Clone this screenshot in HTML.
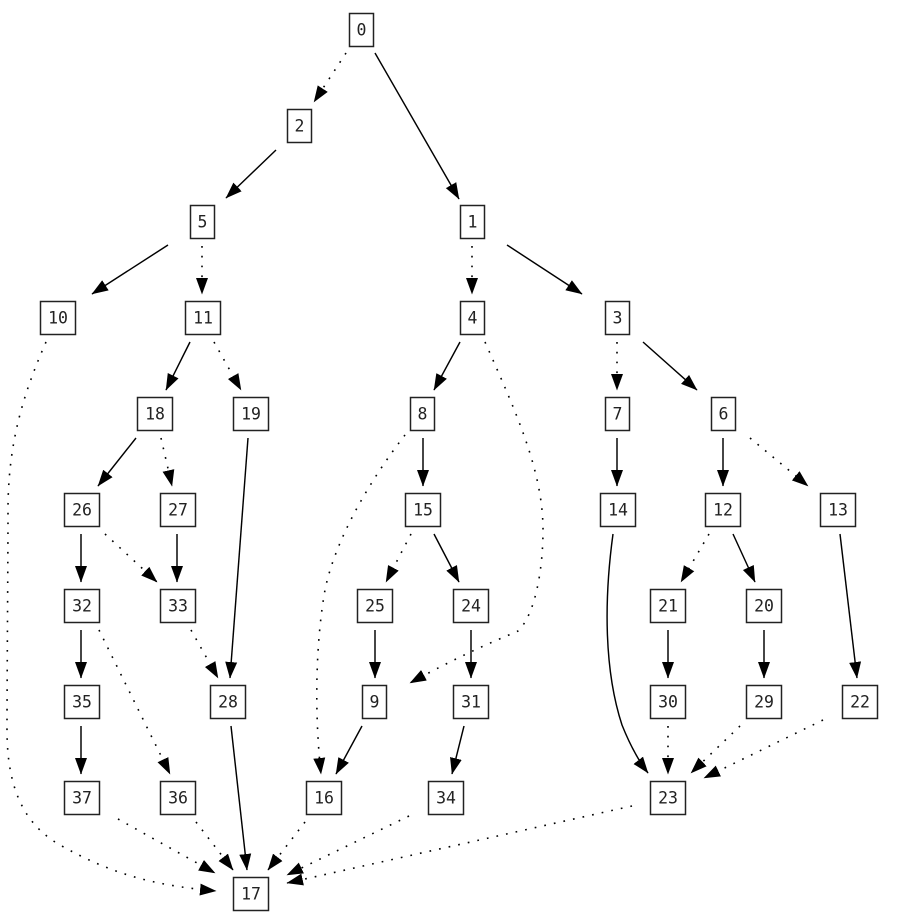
<!DOCTYPE html>
<html><head><meta charset="utf-8"><style>
html,body{margin:0;padding:0;background:#fff}
svg{display:block}
rect{fill:#fff;stroke:#222;stroke-width:1.5}
text{font-family:"DejaVu Sans Mono","Liberation Mono",monospace;font-size:16.5px;fill:#222;text-anchor:middle}
.s,.d{fill:none;stroke:#000;stroke-width:1.45;marker-end:url(#a)}
.d{stroke-width:1.6;stroke-dasharray:1.7 8.1}
</style></head><body>
<svg width="901" height="923" viewBox="0 0 901 923" xmlns="http://www.w3.org/2000/svg">
<defs><marker id="a" markerUnits="userSpaceOnUse" markerWidth="20" markerHeight="16" refX="16" refY="8" orient="auto"><path d="M0,2 L16.5,8 L0,14 Z" fill="#000"/></marker></defs>
<g>
<path class="s" d="M375,53 L459,199"/>
<path class="d" d="M346,53 L314,102"/>
<path class="s" d="M276,150 L226,198"/>
<path class="d" d="M472,246 L472,294"/>
<path class="s" d="M507,245 L582,294"/>
<path class="s" d="M168,245 L92,294"/>
<path class="d" d="M202,246 L202,294"/>
<path class="d" d="M46,342 C25,390 8,440 8,510 C8,560 7,680 7,730 C7,790 25,825 60,845 C110,873 150,885 216,891"/>
<path class="s" d="M190,342 L166,390"/>
<path class="d" d="M214,342 L241,390"/>
<path class="s" d="M136,438 L98,486"/>
<path class="d" d="M161,438 L172,486"/>
<path class="s" d="M248,438 L230,678"/>
<path class="s" d="M81,534 L81,582"/>
<path class="d" d="M105,534 L157,582"/>
<path class="s" d="M177,534 L177,582"/>
<path class="s" d="M81,630 L81,678"/>
<path class="d" d="M99,630 L170,774"/>
<path class="d" d="M191,630 L218,678"/>
<path class="s" d="M81,726 L81,774"/>
<path class="s" d="M231,726 L247,870"/>
<path class="d" d="M118,819 L215,873"/>
<path class="d" d="M196,822 L233,870"/>
<path class="d" d="M305,822 L268,870"/>
<path class="d" d="M409,816 L287,875"/>
<path class="d" d="M632,806 L287,883"/>
<path class="d" d="M485,342 C515,410 543,470 543,530 C543,570 535,615 518,631 C505,637 470,650 410,683"/>
<path class="s" d="M460,342 L434,390"/>
<path class="d" d="M405,435 C370,480 335,540 325,590 C316,640 314,710 321,774"/>
<path class="s" d="M423,438 L423,486"/>
<path class="d" d="M411,534 L386,582"/>
<path class="s" d="M434,534 L459,582"/>
<path class="s" d="M375,630 L375,678"/>
<path class="s" d="M471,630 L471,678"/>
<path class="s" d="M362,726 L336,774"/>
<path class="s" d="M464,726 L452,774"/>
<path class="d" d="M617,342 L617,390"/>
<path class="s" d="M643,342 L697,390"/>
<path class="s" d="M617,438 L617,486"/>
<path class="s" d="M723,438 L723,486"/>
<path class="d" d="M750,438 L808,486"/>
<path class="d" d="M709,534 L681,582"/>
<path class="s" d="M733,534 L755,582"/>
<path class="s" d="M840,534 L857,678"/>
<path class="s" d="M613,534 C604,600 604,670 622,725 C630,745 638,760 648,773"/>
<path class="s" d="M668,630 L668,678"/>
<path class="s" d="M764,630 L764,678"/>
<path class="d" d="M668,726 L668,774"/>
<path class="d" d="M740,726 L691,773"/>
<path class="d" d="M823,720 L704,778"/>
</g>
<g>
<rect x="349.5" y="13.5" width="24" height="33"/><text x="361.5" y="35.5">0</text>
<rect x="287.5" y="109.5" width="24" height="33"/><text x="299.5" y="131.5">2</text>
<rect x="190.5" y="205.5" width="24" height="33"/><text x="202.5" y="227.5">5</text>
<rect x="460.5" y="205.5" width="24" height="33"/><text x="472.5" y="227.5">1</text>
<rect x="40.5" y="301.5" width="35" height="33"/><text x="58" y="323.5">10</text>
<rect x="185.5" y="301.5" width="35" height="33"/><text x="203" y="323.5">11</text>
<rect x="460.5" y="301.5" width="24" height="33"/><text x="472.5" y="323.5">4</text>
<rect x="605.5" y="301.5" width="24" height="33"/><text x="617.5" y="323.5">3</text>
<rect x="137.5" y="397.5" width="35" height="33"/><text x="155" y="419.5">18</text>
<rect x="233.5" y="397.5" width="35" height="33"/><text x="251" y="419.5">19</text>
<rect x="410.5" y="397.5" width="24" height="33"/><text x="422.5" y="419.5">8</text>
<rect x="605.5" y="397.5" width="24" height="33"/><text x="617.5" y="419.5">7</text>
<rect x="711.5" y="397.5" width="24" height="33"/><text x="723.5" y="419.5">6</text>
<rect x="64.5" y="493.5" width="35" height="33"/><text x="82" y="515.5">26</text>
<rect x="160.5" y="493.5" width="35" height="33"/><text x="178" y="515.5">27</text>
<rect x="405.5" y="493.5" width="35" height="33"/><text x="423" y="515.5">15</text>
<rect x="600.5" y="493.5" width="35" height="33"/><text x="618" y="515.5">14</text>
<rect x="705.5" y="493.5" width="35" height="33"/><text x="723" y="515.5">12</text>
<rect x="820.5" y="493.5" width="35" height="33"/><text x="838" y="515.5">13</text>
<rect x="64.5" y="589.5" width="35" height="33"/><text x="82" y="611.5">32</text>
<rect x="160.5" y="589.5" width="35" height="33"/><text x="178" y="611.5">33</text>
<rect x="357.5" y="589.5" width="35" height="33"/><text x="375" y="611.5">25</text>
<rect x="453.5" y="589.5" width="35" height="33"/><text x="471" y="611.5">24</text>
<rect x="650.5" y="589.5" width="35" height="33"/><text x="668" y="611.5">21</text>
<rect x="746.5" y="589.5" width="35" height="33"/><text x="764" y="611.5">20</text>
<rect x="64.5" y="685.5" width="35" height="33"/><text x="82" y="707.5">35</text>
<rect x="210.5" y="685.5" width="35" height="33"/><text x="228" y="707.5">28</text>
<rect x="362.5" y="685.5" width="24" height="33"/><text x="374.5" y="707.5">9</text>
<rect x="453.5" y="685.5" width="35" height="33"/><text x="471" y="707.5">31</text>
<rect x="650.5" y="685.5" width="35" height="33"/><text x="668" y="707.5">30</text>
<rect x="746.5" y="685.5" width="35" height="33"/><text x="764" y="707.5">29</text>
<rect x="842.5" y="685.5" width="35" height="33"/><text x="860" y="707.5">22</text>
<rect x="64.5" y="781.5" width="35" height="33"/><text x="82" y="803.5">37</text>
<rect x="160.5" y="781.5" width="35" height="33"/><text x="178" y="803.5">36</text>
<rect x="306.5" y="781.5" width="35" height="33"/><text x="324" y="803.5">16</text>
<rect x="428.5" y="781.5" width="35" height="33"/><text x="446" y="803.5">34</text>
<rect x="650.5" y="781.5" width="35" height="33"/><text x="668" y="803.5">23</text>
<rect x="233.5" y="877.5" width="35" height="33"/><text x="251" y="899.5">17</text>
</g>
</svg>
</body></html>
